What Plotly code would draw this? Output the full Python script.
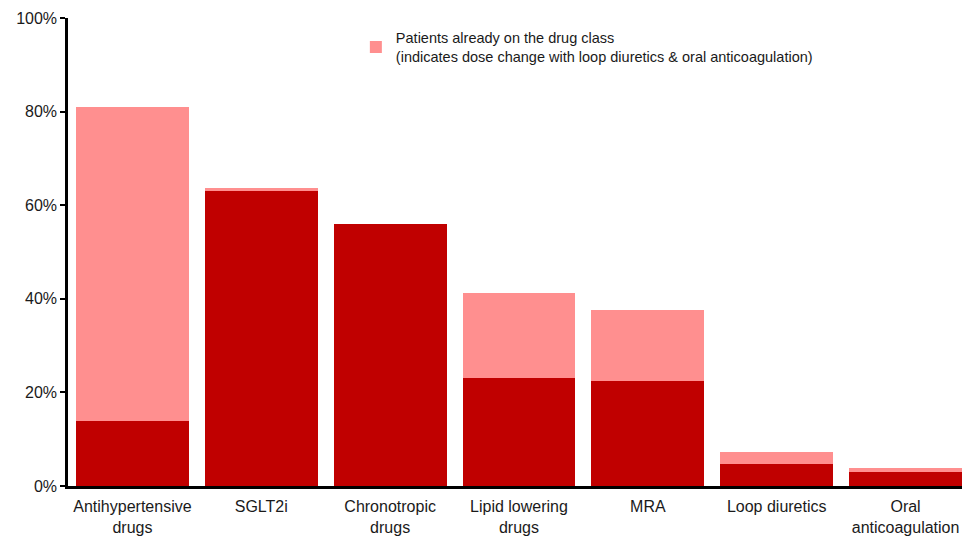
import plotly.graph_objects as go

categories = [
    "Antihypertensive<br>drugs",
    "SGLT2i",
    "Chronotropic<br>drugs",
    "Lipid lowering<br>drugs",
    "MRA",
    "Loop diuretics",
    "Oral<br>anticoagulation",
]
# share of patients newly started (dark) and total including those already on the class
new_start = [13.9, 63.0, 56.0, 23.1, 22.4, 4.8, 3.0]
total = [81.0, 63.7, 56.0, 41.2, 37.6, 7.3, 3.9]
already_on = [t - n for t, n in zip(total, new_start)]

y_ticks = [0, 20, 40, 60, 80, 100]
y_tick_text = ["0%", "20%", "40%", "60%", "80%", "100%"]

DARK = "#C00000"
PINK = "#FF8F8F"
FONT = "Liberation Sans, Arial, sans-serif"

fig = go.Figure()
fig.add_trace(go.Bar(
    x=list(range(len(categories))), y=new_start, marker_color=DARK,
    marker_line_width=0, showlegend=False, name="New"))
fig.add_trace(go.Bar(
    x=list(range(len(categories))), y=already_on, marker_color=PINK,
    marker_line_width=0,
    name="Patients already on the drug class<br>(indicates dose change with loop diuretics &amp; oral anticoagulation)"))

fig.update_layout(
    width=962, height=536,
    margin=dict(l=68, r=0, t=18, b=50),
    barmode="stack", bargap=0.124,
    plot_bgcolor="white", paper_bgcolor="white",
    font=dict(family=FONT, size=16, color="#000000"),
    legend=dict(x=0.322, y=0.992, xanchor="left", yanchor="top",
                font=dict(size=14.5, color="#1a1a1a"), bgcolor="rgba(0,0,0,0)",
                itemwidth=30, tracegroupgap=0),
    xaxis=dict(
        range=[-0.5, 6.438], tickmode="array",
        tickvals=list(range(len(categories))), ticktext=categories,
        showline=True, linecolor="black", linewidth=2.5,
        ticks="", showgrid=False, zeroline=False,
        tickfont=dict(size=16, color="#1a1a1a"),
        ticklabelstandoff=4,
    ),
    yaxis=dict(
        range=[0, 100], tickmode="array", tickvals=y_ticks, ticktext=y_tick_text,
        showline=True, linecolor="black", linewidth=2.5,
        ticks="outside", ticklen=5, tickwidth=2, tickcolor="black",
        showgrid=False, zeroline=False,
        tickfont=dict(size=16, color="#1a1a1a"),
    ),
)

fig.write_html("out.html")
